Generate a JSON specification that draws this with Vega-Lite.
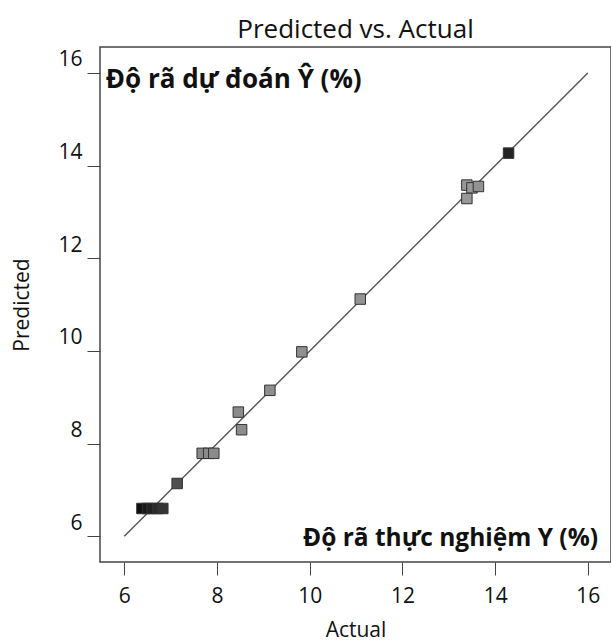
{
  "$schema": "https://vega.github.io/schema/vega-lite/v6.json",
  "width": 511,
  "height": 515,
  "autosize": "none",
  "padding": {"left": 100, "top": 47, "right": 0, "bottom": 81},
  "background": "white",
  "config": {
    "font": "Open Sans",
    "view": {"stroke": "#444", "strokeWidth": 1.5},
    "axis": {
      "grid": false,
      "domain": false,
      "tickColor": "#444",
      "tickSize": 13,
      "labelFont": "Open Sans",
      "labelFontSize": 21,
      "labelColor": "#111",
      "titleFont": "Open Sans",
      "titleFontSize": 21,
      "titleFontWeight": "normal",
      "titleColor": "#111"
    }
  },
  "title": {
    "text": "Predicted vs. Actual",
    "fontSize": 26,
    "fontWeight": "normal",
    "font": "Open Sans",
    "color": "#111",
    "anchor": "middle",
    "offset": 4
  },
  "datasets": {
    "points": [
      {"Actual": 6.38, "Predicted": 6.6},
      {"Actual": 6.5, "Predicted": 6.6},
      {"Actual": 6.6, "Predicted": 6.6},
      {"Actual": 6.72, "Predicted": 6.6},
      {"Actual": 6.83, "Predicted": 6.6},
      {"Actual": 7.14, "Predicted": 7.14},
      {"Actual": 7.68, "Predicted": 7.79},
      {"Actual": 7.82, "Predicted": 7.79},
      {"Actual": 7.93, "Predicted": 7.79},
      {"Actual": 8.46, "Predicted": 8.68},
      {"Actual": 8.53, "Predicted": 8.3},
      {"Actual": 9.14, "Predicted": 9.15},
      {"Actual": 9.83, "Predicted": 9.98},
      {"Actual": 11.09, "Predicted": 11.12},
      {"Actual": 13.39, "Predicted": 13.58},
      {"Actual": 13.5, "Predicted": 13.52},
      {"Actual": 13.64, "Predicted": 13.55},
      {"Actual": 13.39, "Predicted": 13.29},
      {"Actual": 14.29, "Predicted": 14.27}
    ],
    "diag": [
      {"Actual": 6, "Predicted": 6},
      {"Actual": 16, "Predicted": 16}
    ],
    "labels": [
      {"Actual": 5.6, "Predicted": 15.85, "label": "Độ rã dự đoán Ŷ (%)", "side": "left"},
      {"Actual": 16.22, "Predicted": 5.95, "label": "Độ rã thực nghiệm Y (%)", "side": "right"}
    ]
  },
  "layer": [
    {
      "data": {"name": "diag"},
      "mark": {"type": "line", "color": "#555", "strokeWidth": 1.4},
      "encoding": {
        "x": {"field": "Actual", "type": "quantitative", "scale": {"domain": [5.475, 16.5], "nice": false, "zero": false},
              "axis": {"values": [6, 8, 10, 12, 14, 16], "title": "Actual", "labelPadding": 10, "titlePadding": 13}},
        "y": {"field": "Predicted", "type": "quantitative", "scale": {"domain": [5.445, 16.56], "nice": false, "zero": false},
              "axis": {"values": [6, 8, 10, 12, 14, 16], "title": "Predicted", "labelPadding": 5, "labelOffset": -13, "titlePadding": 25}}
      }
    },
    {
      "data": {"name": "points"},
      "mark": {"type": "point", "shape": "square", "filled": true, "size": 110, "stroke": "#333", "strokeWidth": 1, "opacity": 1},
      "encoding": {
        "x": {"field": "Actual", "type": "quantitative"},
        "y": {"field": "Predicted", "type": "quantitative"},
        "fill": {"field": "Actual", "type": "quantitative", "legend": null,
                 "scale": {"domain": [6.4, 7.2, 7.7, 13.6, 14.3], "range": ["#111", "#555", "#8a8a8a", "#999", "#222"]}}
      }
    },
    {
      "data": {"name": "labels"},
      "transform": [{"filter": "datum.side == 'left'"}],
      "mark": {"type": "text", "align": "left", "baseline": "middle", "fontWeight": "bold", "fontSize": 26, "font": "Open Sans", "color": "#111"},
      "encoding": {
        "x": {"field": "Actual", "type": "quantitative"},
        "y": {"field": "Predicted", "type": "quantitative"},
        "text": {"field": "label"}
      }
    },
    {
      "data": {"name": "labels"},
      "transform": [{"filter": "datum.side == 'right'"}],
      "mark": {"type": "text", "align": "right", "baseline": "middle", "fontWeight": "bold", "fontSize": 24.5, "font": "Open Sans", "color": "#111"},
      "encoding": {
        "x": {"field": "Actual", "type": "quantitative"},
        "y": {"field": "Predicted", "type": "quantitative"},
        "text": {"field": "label"}
      }
    }
  ]
}
